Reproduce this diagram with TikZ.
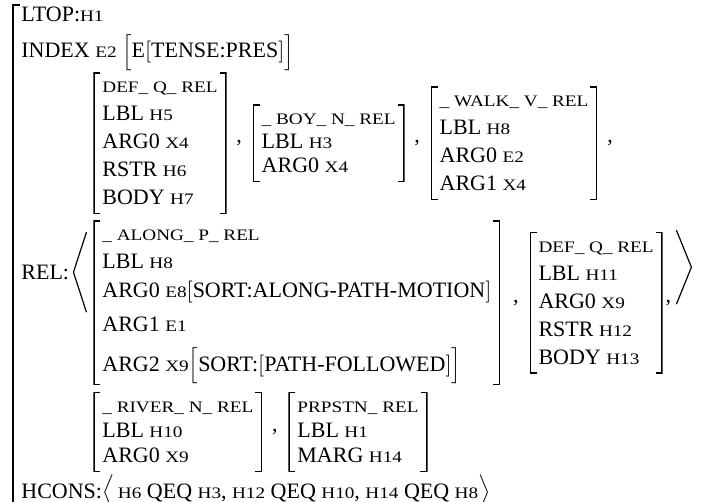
\documentclass[tikz,border=0pt]{standalone}
\usepackage{fontspec}
\setmainfont{Liberation Serif}
\newfontfamily\scfont[FakeStretch=1.2]{Liberation Serif}
\usetikzlibrary{positioning}
\newcommand{\sm}[1]{{\scfont\fontsize{8pt}{9pt}\selectfont #1}}
\newcommand{\avmrows}[1]{\begin{tabular}{@{}l@{}}#1\end{tabular}}

\begin{document}
\begin{tikzpicture}[
            font=\fontsize{11pt}{14pt}\selectfont,
            node distance=4.5pt,
            txt/.style={inner sep=0pt, anchor=base west},
            brk/.style={line width=0.65pt},
            chev/.style={line width=0.6pt},
            listcomma/.style={inner sep=0pt},
            avm/.style={inner xsep=4.5pt, inner ysep=0.5pt, path picture={
                \draw[brk] ([xshift=3.5pt,yshift=-0.33pt]path picture bounding box.north west) -| ([xshift=0.33pt,yshift=0.33pt]path picture bounding box.south west) -- ++(3.2pt,0);
                \draw[brk] ([xshift=-3.5pt,yshift=-0.33pt]path picture bounding box.north east) -| ([xshift=-0.33pt,yshift=0.33pt]path picture bounding box.south east) -- ++(-3.2pt,0);
            }}
        ]
            \useasboundingbox (0,0) rectangle (351pt,-251pt);

            % Top lines
            \node[txt] (ltop) at (10.5pt,-11pt) {LTOP:\sm{H1}};
            \node[txt, below=18pt of ltop.base west, anchor=base west] (index) {INDEX \sm{E2} $\Bigl[$E$\bigl[$TENSE:PRES$\bigr]\Bigr]$};

            % Relations, first row
            \node[avm, below=7pt of index.base west, anchor=north west, xshift=36pt] (defq) {\avmrows{\sm{DEF\_ Q\_ REL}\\ LBL \sm{H5}\\ ARG0 \sm{X4}\\ RSTR \sm{H6}\\ BODY \sm{H7}}};
            \node[listcomma, right=of defq] (c1) {,};
            \node[avm, right=5pt of c1] (boy) {\avmrows{\sm{\_ BOY\_ N\_ REL}\\[-2pt] LBL \sm{H3}\\[-2pt] ARG0 \sm{X4}}};
            \node[listcomma, right=of boy] (c2) {,};
            \node[avm, right=5pt of c2] (walk) {\avmrows{\sm{\_ WALK\_ V\_ REL}\\ LBL \sm{H8}\\ ARG0 \sm{E2}\\ ARG1 \sm{X4}}};
            \node[listcomma, right=of walk] (c3) {,};

            % Relations, second row
            \node[avm, below=2.5pt of defq.south west, anchor=north west] (along) {\avmrows{\sm{\_ ALONG\_ P\_ REL}\\ LBL \sm{H8}\\[0.5pt] ARG0 \sm{E8}$\bigl[$SORT:ALONG-PATH-MOTION$\bigr]$\\[3pt] ARG1 \sm{E1}\\[4pt] ARG2 \sm{X9}$\Bigl[$SORT:$\bigl[$PATH-FOLLOWED$\bigr]\Bigr]$}};
            \node[listcomma, right=6pt of along] (c4) {,};
            \node[avm, right=5pt of c4] (defqb) {\avmrows{\sm{DEF\_ Q\_ REL}\\ LBL \sm{H11}\\ ARG0 \sm{X9}\\ RSTR \sm{H12}\\ BODY \sm{H13}}};
            \node[listcomma, right=1pt of defqb] (c5) {,};

            % Relations, third row
            \node[avm, below=3pt of along.south west, anchor=north west] (river) {\avmrows{\sm{\_ RIVER\_ N\_ REL}\\[-1.5pt] LBL \sm{H10}\\[-1.5pt] ARG0 \sm{X9}}};
            \node[listcomma, right=of river] (c6) {,};
            \node[avm, right=5pt of c6] (prpstn) {\avmrows{\sm{PRPSTN\_ REL}\\[-1.5pt] LBL \sm{H1}\\[-1.5pt] MARG \sm{H14}}};

            % REL label and list brackets
            \path (defq.north west) -- (river.south west) coordinate[midway] (mid);
            \node[txt, anchor=west] (rel) at (ltop.west |- mid) {REL:};
            \coordinate (ra) at ([yshift=2.5pt]c5.east |- rel.east);
            \draw[chev] ([xshift=8.5pt,yshift=20pt]rel.east) -- ([xshift=2pt]rel.east) -- ([xshift=8.5pt,yshift=-20pt]rel.east);
            \draw[chev] ([xshift=2.5pt,yshift=18.5pt]ra) -- ([xshift=10pt]ra) -- ([xshift=2.5pt,yshift=-18.5pt]ra);

            % HCONS
            \coordinate (hc) at (ltop.base west |- river.south);
            \node[txt] (hcons) at ([yshift=-13pt]hc) {HCONS:$\Bigl\langle$\,\sm{H6} QEQ \sm{H3}, \sm{H12} QEQ \sm{H10}, \sm{H14} QEQ \sm{H8}$\Bigr\rangle$};

            % Outer bracket
            \draw[brk] ([xshift=-0.5pt,yshift=1pt]ltop.north west) -| ([xshift=-4pt,yshift=-2.5pt]hcons.base west) -- ++(3.5pt,0);
        \end{tikzpicture}
\end{document}
